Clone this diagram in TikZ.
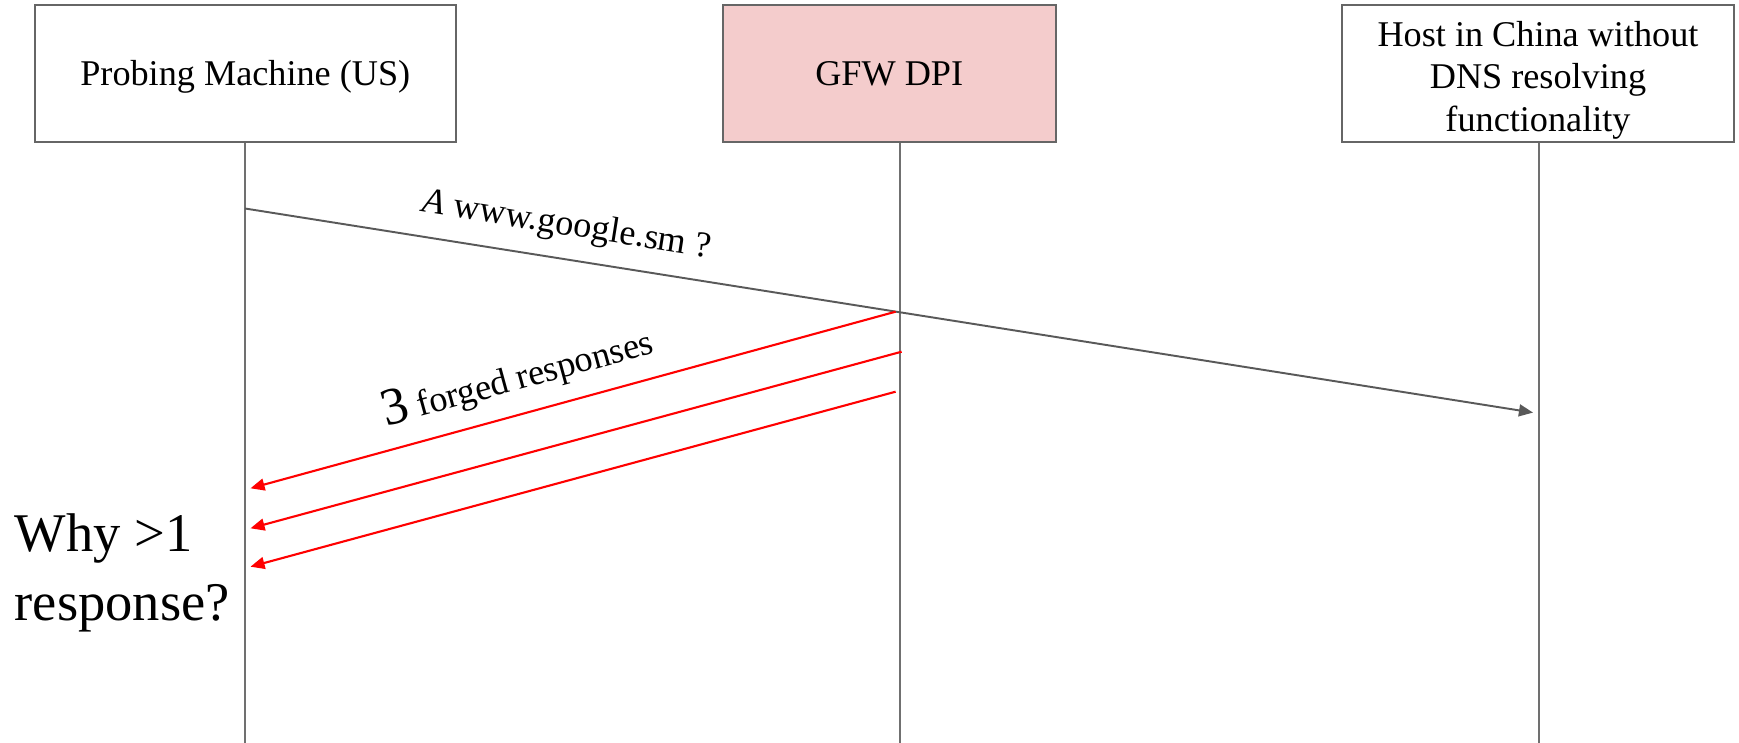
\documentclass[tikz,border=0pt]{standalone}
\usepackage{fontspec}
\setmainfont{Liberation Serif}
\usetikzlibrary{arrows.meta}
\definecolor{framegray}{HTML}{666666}
\definecolor{lifegray}{HTML}{707070}
\definecolor{gfwpink}{HTML}{F4CCCC}
\definecolor{querygray}{HTML}{595959}
\definecolor{forgedred}{HTML}{FF0000}
\begin{document}
\begin{tikzpicture}[x=0.01cm, y=-0.01cm,
  actor/.style={draw=framegray, line width=0.6pt, minimum height=1.367cm,
    inner sep=0pt, align=center, font=\fontsize{10.3}{12}\selectfont},
  life/.style={draw=lifegray, line width=0.6pt},
  query/.style={draw=querygray, line width=0.55pt,
    -{Triangle[length=4pt,width=3.4pt]}},
  reply/.style={draw=forgedred, line width=0.6pt,
    -{Triangle[length=4pt,width=3.4pt]}},
  msglabel/.style={sloped, above, inner sep=4.4pt, font=\fontsize{10.3}{12}\selectfont},
]
\useasboundingbox (0,0) rectangle (1739,743);

% participants
\node[actor, minimum width=4.21cm, text depth=0pt] (probe) at (245.3,73.4) {Probing Machine (US)};
\node[actor, minimum width=3.33cm, fill=gfwpink] (gfw) at (889.2,73.4) {GFW DPI};
\node[actor, minimum width=3.92cm] (host) at (1538,73.4)
  {\rule{0pt}{11pt}Host in China without\\DNS resolving\\functionality};

% lifelines
\coordinate (probeEnd) at (245,743);
\coordinate (gfwEnd) at (900,743);
\coordinate (hostEnd) at (1539,743);
\draw[life] (probe.south -| probeEnd) -- (probeEnd);
\draw[life] (gfw.south -| gfwEnd) -- (gfwEnd);
\draw[life] (host.south -| hostEnd) -- (hostEnd);

% DNS query towards the host
\coordinate (q0) at (245,208.5);
\coordinate (q1) at (1533,412.6);
\draw[query] (q0) -- node[msglabel, pos=0.246] {\textit{A} www.google.sm ?} (q1);

% forged responses injected by the GFW
\coordinate (r1s) at (895.6,311.7);
\coordinate (r1e) at (250.5,488.3);
\coordinate (r2s) at (901.6,351.7);
\coordinate (r2e) at (250.5,528.3);
\coordinate (r3s) at (895.6,391.7);
\coordinate (r3e) at (250.5,566.7);
\draw[reply] (r1s) -- node[msglabel, pos=0.571, inner sep=4.3pt]
  {{\fontsize{15}{15}\selectfont 3} forged responses} (r1e);
\draw[reply] (r2s) -- (r2e);
\draw[reply] (r3s) -- (r3e);

% question
\node[anchor=west, inner sep=0pt, align=left, font=\fontsize{15.5}{19.4}\selectfont]
  (why) at (14,573) {Why >1\\response?};
\end{tikzpicture}
\end{document}
